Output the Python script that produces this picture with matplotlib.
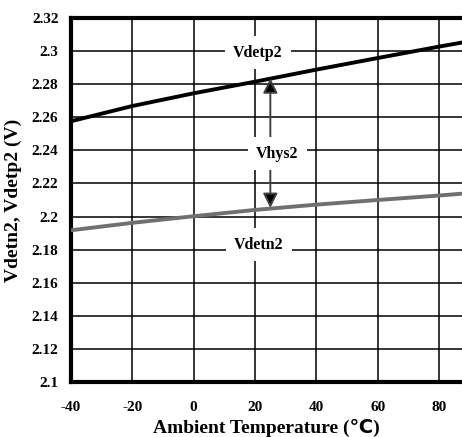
import matplotlib.pyplot as plt

# temperature sweep (deg C) and detector thresholds (V)
temps = [-40, -20, 0, 20, 40, 60, 80, 90]
vdetp2 = [2.2576, 2.2668, 2.2745, 2.2815, 2.2888, 2.2958, 2.3027, 2.3060]
vdetn2 = [2.1917, 2.1962, 2.2002, 2.2040, 2.2072, 2.2100, 2.2127, 2.2142]

xticks = [-40, -20, 0, 20, 40, 60, 80]
yticks = [2.1, 2.12, 2.14, 2.16, 2.18, 2.2, 2.22, 2.24, 2.26, 2.28, 2.3, 2.32]
ytick_labels = ['2.1', '2.12', '2.14', '2.16', '2.18', '2.2', '2.22', '2.24',
                '2.26', '2.28', '2.3', '2.32']

serif = ['Liberation Serif', 'DejaVu Sans']
plt.rcParams['font.family'] = serif
plt.rcParams['font.weight'] = 'bold'
plt.rcParams['axes.unicode_minus'] = False

fig = plt.figure(figsize=(4.62, 4.37), dpi=100)
ax = fig.add_axes([71 / 462, 55 / 437, 391 / 462, 364 / 437])

ax.plot(temps, vdetp2, color='black', lw=2.8, solid_capstyle='butt', zorder=3)
ax.plot(temps, vdetn2, color='#707070', lw=2.8, solid_capstyle='butt', zorder=3)

ax.set_xlim(-40, 87.5)
ax.set_ylim(2.1, 2.32)
ax.set_xticks(xticks)
ax.set_yticks(yticks)
ax.set_yticklabels(ytick_labels)
ax.tick_params(length=0, labelsize=11)
ax.tick_params(axis='y', pad=9)
ax.tick_params(axis='x', pad=14)
for lab in ax.get_xticklabels() + ax.get_yticklabels():
    lab.set_fontweight('bold')

ax.grid(True, color='black', lw=1.1)
ax.set_axisbelow(True)
for side in ['left', 'top', 'bottom']:
    ax.spines[side].set_linewidth(3)
ax.spines['right'].set_visible(False)

ax.set_xlabel('Ambient Temperature (\u2103)', fontsize=14, fontweight='bold', labelpad=3)
ax.set_ylabel('Vdetn2, Vdetp2 (V)', fontsize=14, fontweight='bold', labelpad=7)

# hysteresis arrows between the two thresholds
arrow_t = 25
arrow_kw = dict(arrowstyle='-|>', fc='black', ec='#404040', lw=1.4,
                mutation_scale=22, shrinkA=0, shrinkB=0)
ax.annotate('', xy=(arrow_t, 2.2835), xytext=(arrow_t, 2.2478),
            arrowprops=arrow_kw, zorder=4)
ax.annotate('', xy=(arrow_t, 2.2052), xytext=(arrow_t, 2.2302),
            arrowprops=arrow_kw, zorder=4)

box = dict(facecolor='white', edgecolor='none', pad=6)
ax.text(21, 2.2991, 'Vdetp2', ha='center', va='center', fontsize=11.5,
        fontweight='bold', bbox=box, zorder=5)
ax.text(27.2, 2.2381, 'Vhys2', ha='center', va='center', fontsize=11.5,
        fontweight='bold', bbox=box, zorder=5)
ax.text(21.3, 2.1831, 'Vdetn2', ha='center', va='center', fontsize=11.5,
        fontweight='bold', bbox=box, zorder=5)

fig.savefig('out.png', dpi=100)
